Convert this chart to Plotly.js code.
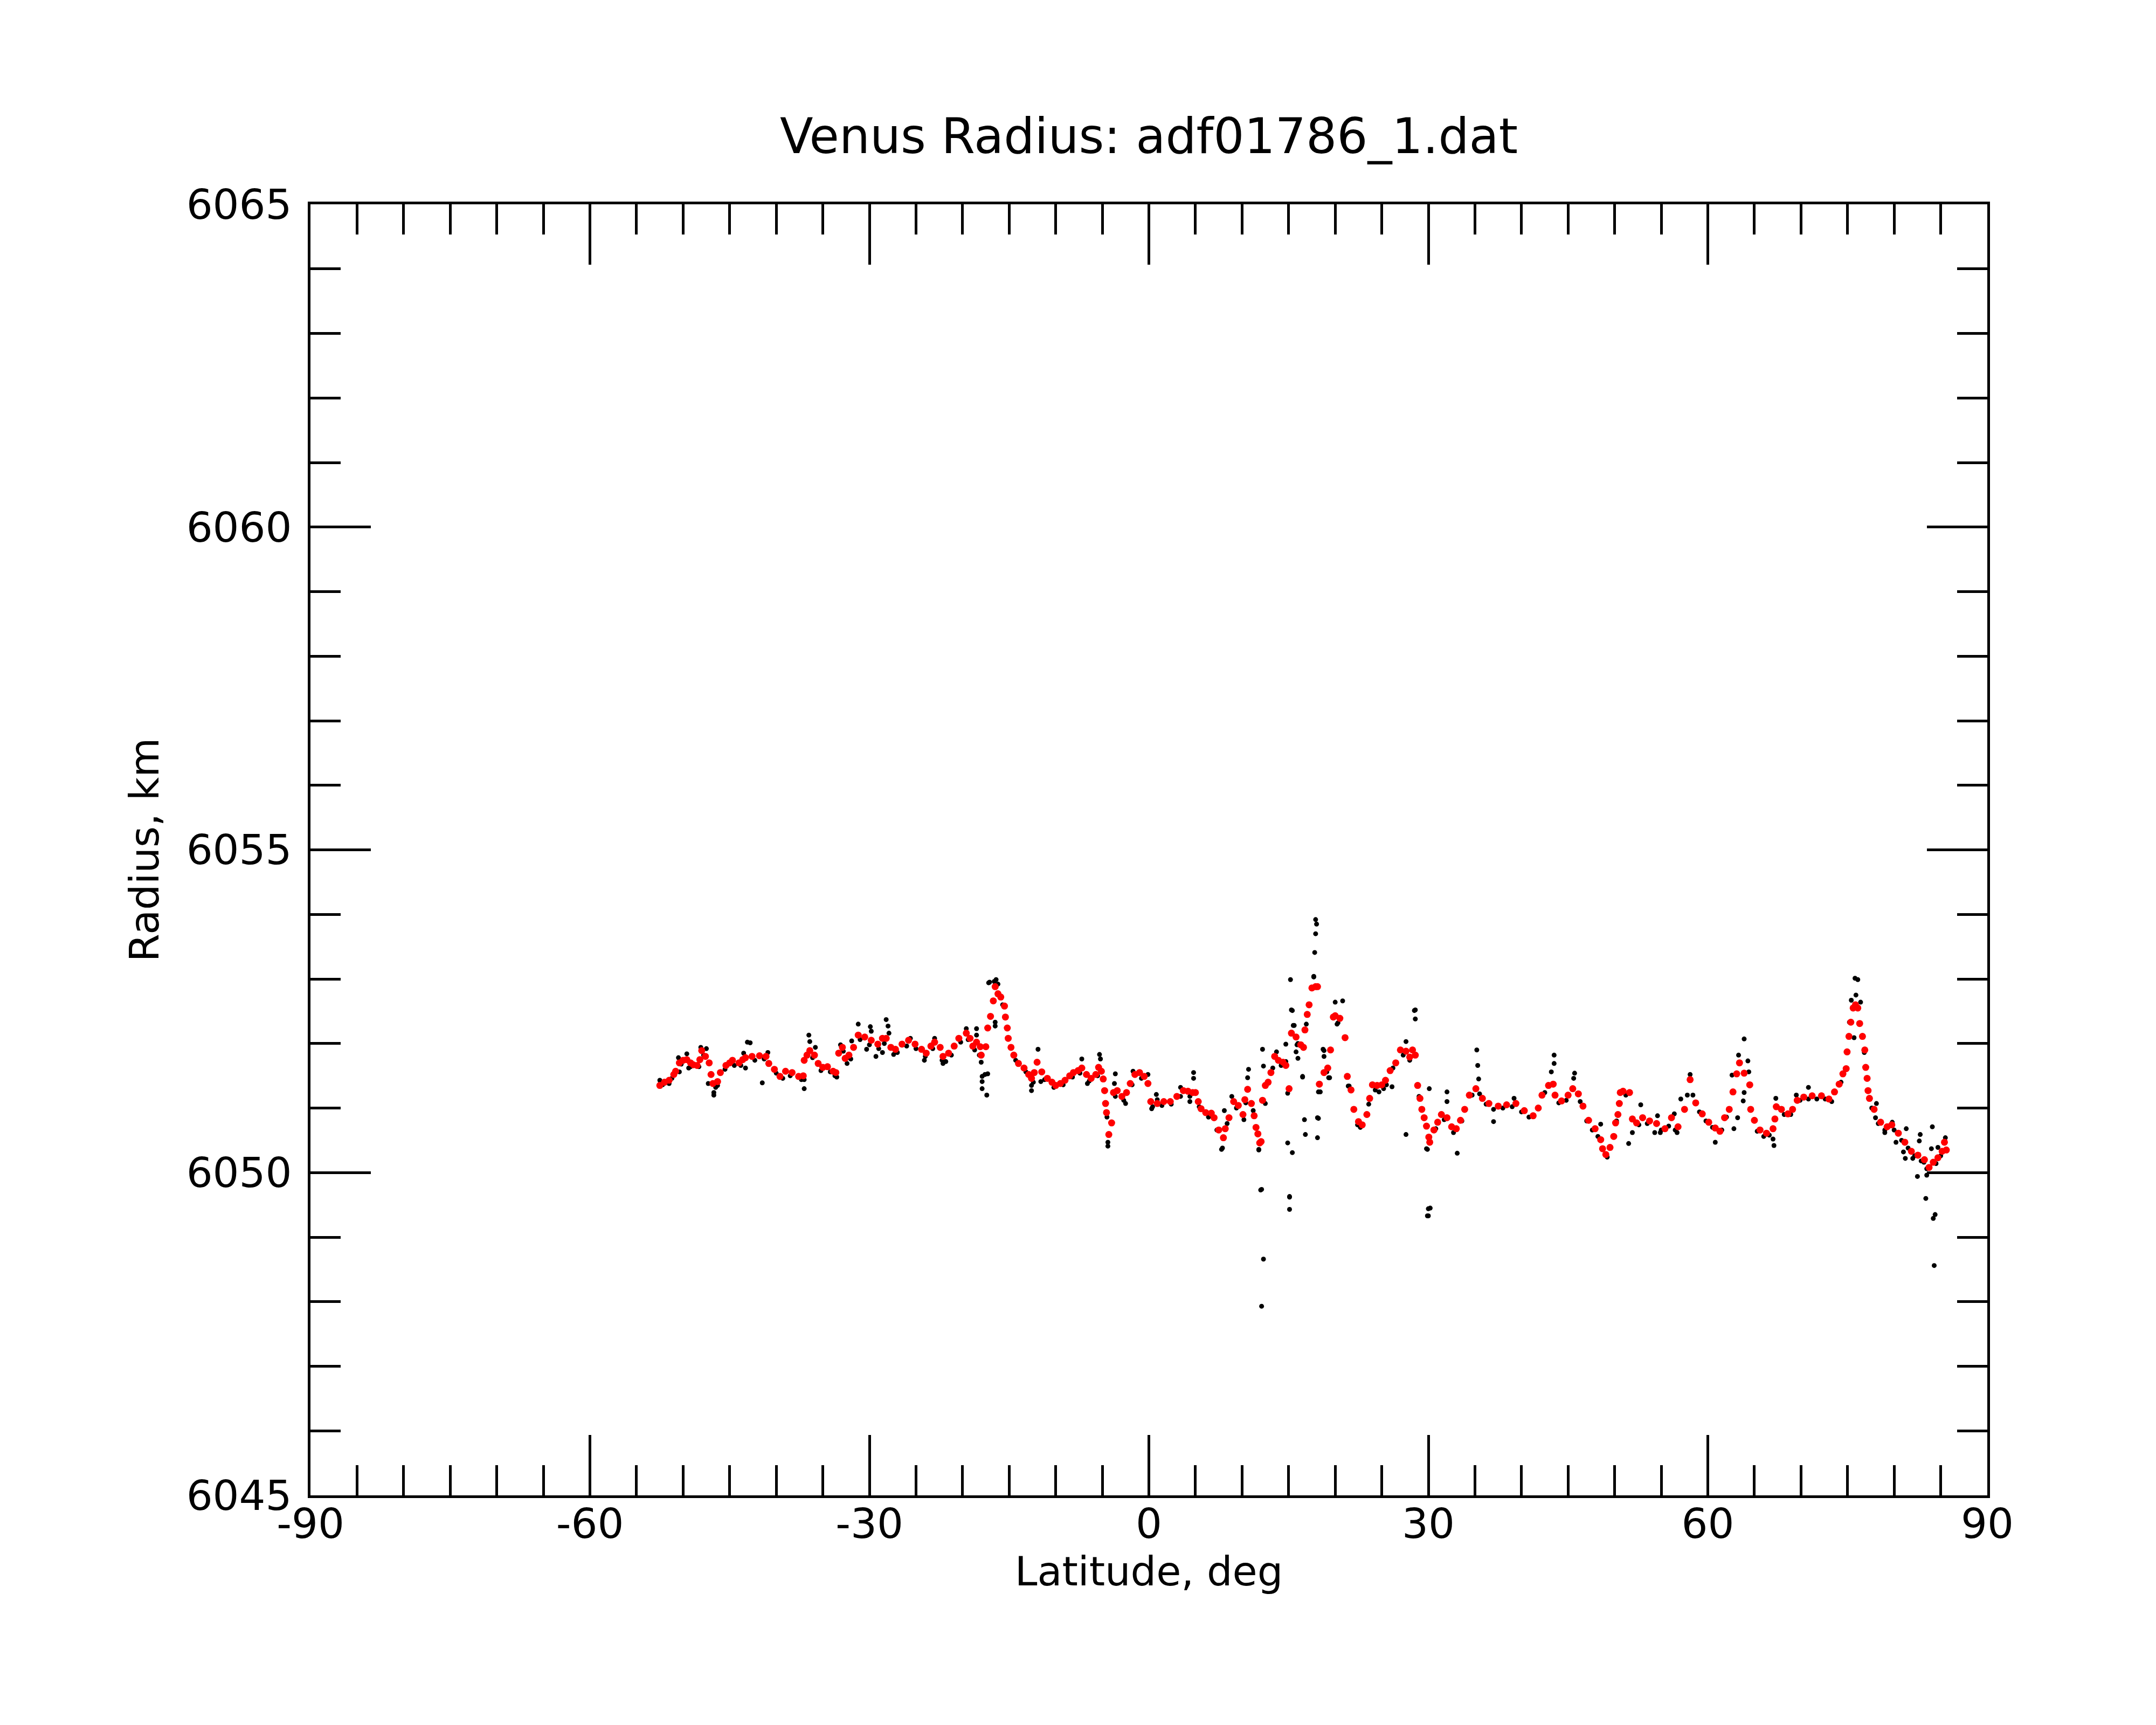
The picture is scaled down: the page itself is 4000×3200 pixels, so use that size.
<!DOCTYPE html>
<html>
<head>
<meta charset="utf-8">
<script src="https://cdn.plot.ly/plotly-3.0.1.min.js"></script>
<style>
  html, body { margin: 0; padding: 0; background: #fff; }
</style>
</head>
<body>
<div id="plotly_venus"></div>
<script>
// smoothed radius (red dots), latitude in deg, radius in km
const fitLat = [
  -52.5, -52.0, -51.5, -51.0, -50.8, -50.4, -50.0, -49.6, -49.2, -48.9, -48.5, -48.2, -48.0, -47.6, -47.2, -47.0, -46.8, -46.3, -46.0, -45.4,
  -45.0, -44.7, -44.0, -43.6, -43.3, -42.6, -41.8, -41.1, -40.8, -40.2, -39.6, -39.0, -38.3, -37.6, -37.1, -37.0, -36.7, -36.4, -35.9, -35.5,
  -35.0, -34.5, -33.9, -33.6, -33.3, -32.9, -32.6, -32.2, -31.7, -31.2, -30.5, -29.8, -29.1, -28.6, -28.2, -27.7, -27.2, -26.5, -25.8, -25.1,
  -24.4, -23.9, -23.4, -23.0, -22.4, -22.1, -21.5, -20.9, -20.4, -19.6, -19.2, -18.9, -18.5, -18.1, -18.0, -17.5, -17.3, -17.0, -16.7, -16.5,
  -16.2, -15.9, -15.5, -15.4, -15.2, -15.1, -14.8, -14.5, -14.0, -13.4, -12.9, -12.6, -12.3, -12.0, -11.5, -10.9, -10.4, -10.0, -9.5, -9.0,
  -8.5, -8.1, -7.6, -7.2, -6.7, -6.2, -5.7, -5.4, -5.1, -4.9, -4.75, -4.65, -4.55, -4.3, -4.0, -3.8, -3.4, -2.9, -2.4, -2.0,
  -1.5, -1.0, -0.5, -0.1, 0.2, 0.9, 1.6, 2.3, 3.0, 3.7, 4.2, 4.7, 5.0, 5.3, 5.6, 6.1, 6.7, 7.0, 7.5, 8.0,
  8.2, 8.6, 9.1, 9.6, 10.1, 10.3, 10.6, 11.0, 11.3, 11.5, 11.7, 11.9, 12.05, 12.2, 12.5, 12.8, 13.1, 13.5, 13.9, 14.4,
  14.7, 15.05, 15.3, 15.8, 16.3, 16.6, 16.75, 17.0, 17.2, 17.5, 17.9, 18.1, 18.3, 18.8, 19.2, 19.5, 19.8, 20.0, 20.5, 21.06,
  21.3, 21.7, 22.0, 22.5, 22.9, 23.4, 23.7, 24.0, 24.5, 25.0, 25.4, 25.9, 26.5, 27.0, 27.6, 28.0, 28.3, 28.6, 28.85, 29.1,
  29.3, 29.55, 29.8, 30.05, 30.15, 30.6, 31.0, 31.4, 32.0, 32.5, 33.0, 33.45, 33.9, 34.4, 35.1, 35.8, 36.5, 37.5, 38.4, 39.4,
  40.3, 41.25, 41.8, 42.2, 42.9, 43.4, 43.6, 44.3, 45.0, 45.5, 46.1, 46.6, 47.2, 47.9, 48.5, 48.7, 49.05, 49.5, 49.9, 50.1,
  50.35, 50.5, 50.6, 50.9, 51.6, 51.9, 52.35, 53.0, 53.75, 54.5, 55.4, 56.1, 56.8, 57.5, 58.1, 58.7, 59.4, 60.1, 60.8, 61.3,
  61.8, 62.3, 62.7, 63.1, 63.4, 63.9, 64.5, 64.6, 65.0, 65.6, 66.3, 67.0, 67.2, 67.35, 67.9, 68.6, 69.1, 69.6, 70.3, 71.2,
  72.2, 73.0, 73.6, 74.1, 74.5, 74.85, 74.95, 75.15, 75.35, 75.6, 75.85, 76.1, 76.3, 76.6, 76.85, 76.95, 77.1, 77.2, 77.35, 77.85,
  78.55, 79.25, 79.75, 80.45, 81.15, 81.85, 82.55, 83.25, 83.75, 84.2, 84.7, 85.15, 85.4, 85.6
];
const fitRad = [
  6051.35, 6051.40, 6051.43, 6051.52, 6051.57, 6051.70, 6051.74, 6051.75, 6051.70, 6051.67, 6051.66, 6051.75, 6051.89, 6051.80, 6051.70, 6051.52, 6051.38, 6051.41, 6051.55, 6051.66,
  6051.70, 6051.74, 6051.70, 6051.75, 6051.78, 6051.80, 6051.81, 6051.80, 6051.69, 6051.60, 6051.49, 6051.57, 6051.55, 6051.49, 6051.50, 6051.74, 6051.82, 6051.89, 6051.82, 6051.69,
  6051.63, 6051.64, 6051.57, 6051.55, 6051.85, 6051.94, 6051.77, 6051.82, 6051.94, 6052.13, 6052.10, 6052.05, 6051.99, 6052.08, 6052.08, 6051.94, 6051.91, 6051.99, 6052.05, 6051.99,
  6051.91, 6051.85, 6051.96, 6052.02, 6051.94, 6051.80, 6051.85, 6051.96, 6052.08, 6052.16, 6052.08, 6051.96, 6052.02, 6051.95, 6051.82, 6051.95, 6052.24, 6052.42, 6052.66, 6052.88,
  6052.77, 6052.72, 6052.58, 6052.41, 6052.24, 6052.08, 6051.94, 6051.82, 6051.69, 6051.62, 6051.52, 6051.46, 6051.55, 6051.71, 6051.56, 6051.46, 6051.40, 6051.35, 6051.38, 6051.43,
  6051.50, 6051.55, 6051.58, 6051.62, 6051.52, 6051.46, 6051.52, 6051.63, 6051.57, 6051.45, 6051.27, 6051.07, 6050.93, 6050.59, 6050.77, 6051.24, 6051.27, 6051.18, 6051.24, 6051.38,
  6051.52, 6051.55, 6051.49, 6051.38, 6051.10, 6051.07, 6051.10, 6051.10, 6051.18, 6051.27, 6051.26, 6051.24, 6051.24, 6051.10, 6050.99, 6050.93, 6050.92, 6050.85, 6050.66, 6050.54,
  6050.68, 6050.85, 6051.10, 6051.04, 6050.90, 6051.13, 6051.29, 6051.07, 6050.88, 6050.70, 6050.60, 6050.46, 6050.48, 6051.12, 6051.35, 6051.40, 6051.55, 6051.80, 6051.74, 6051.71,
  6051.66, 6051.30, 6052.16, 6052.10, 6051.98, 6051.94, 6052.21, 6052.45, 6052.60, 6052.86, 6052.88, 6052.88, 6051.37, 6051.55, 6051.62, 6051.90, 6052.41, 6052.43, 6052.39, 6052.09,
  6051.49, 6051.28, 6050.98, 6050.79, 6050.74, 6050.90, 6051.15, 6051.36, 6051.35, 6051.36, 6051.43, 6051.58, 6051.70, 6051.90, 6051.88, 6051.79, 6051.90, 6051.82, 6051.35, 6051.15,
  6050.98, 6050.85, 6050.72, 6050.55, 6050.47, 6050.66, 6050.78, 6050.90, 6050.85, 6050.71, 6050.68, 6050.81, 6050.98, 6051.20, 6051.30, 6051.15, 6051.07, 6051.03, 6051.05, 6051.07,
  6050.96, 6050.88, 6051.00, 6051.20, 6051.35, 6051.37, 6051.20, 6051.11, 6051.20, 6051.30, 6051.22, 6051.03, 6050.81, 6050.68, 6050.51, 6050.37, 6050.28, 6050.39, 6050.56, 6050.77,
  6050.90, 6051.07, 6051.24, 6051.26, 6051.24, 6050.83, 6050.77, 6050.85, 6050.80, 6050.76, 6050.68, 6050.85, 6050.71, 6050.98, 6051.44, 6051.08, 6050.91, 6050.78, 6050.69, 6050.64,
  6050.85, 6050.98, 6051.25, 6051.53, 6051.70, 6051.54, 6051.36, 6050.98, 6050.81, 6050.66, 6050.61, 6050.68, 6050.83, 6051.02, 6050.98, 6050.91, 6050.98, 6051.12, 6051.17, 6051.19,
  6051.19, 6051.14, 6051.25, 6051.37, 6051.53, 6051.61, 6051.87, 6052.11, 6052.33, 6052.55, 6052.60, 6052.55, 6052.31, 6052.11, 6051.90, 6051.63, 6051.46, 6051.27, 6051.15, 6050.98,
  6050.78, 6050.71, 6050.74, 6050.61, 6050.47, 6050.33, 6050.27, 6050.20, 6050.08, 6050.16, 6050.23, 6050.33, 6050.47, 6050.35
];

// raw radius samples (black dots)
const rawLat = [
  -52.5, -52.2, -51.5, -51.2, -50.5, -50.4, -50.2, -49.6, -49.4, -49.2, -48.3, -48.1, -47.8, -47.5, -47.3, -46.7, -46.7, -46.5, -46.3, -45.5,
  -44.5, -43.8, -43.5, -43.3, -43.1, -42.8, -42.3, -41.5, -41.3, -40.9, -40.0, -39.3, -38.5, -37.3, -37.0, -37.0, -36.5, -36.4, -36.1, -35.8,
  -35.2, -34.2, -33.7, -33.5, -33.1, -32.8, -32.4, -32.0, -31.9, -31.2, -31.0, -30.3, -30.0, -29.9, -29.8, -29.3, -29.0, -28.6, -28.4, -28.2,
  -28.0, -27.9, -27.4, -27.0, -26.0, -25.6, -25.0, -24.1, -24.0, -23.2, -23.0, -22.2, -22.1, -21.8, -21.2, -20.2, -19.6, -19.4, -18.7, -18.5,
  -18.5, -18.2, -18.0, -17.9, -17.9, -17.9, -17.6, -17.4, -17.3, -17.2, -17.1, -16.6, -16.5, -16.5, -16.4, -16.2, -15.7, -14.3, -13.2, -12.6,
  -12.6, -12.4, -11.9, -11.6, -11.2, -10.2, -9.2, -8.2, -7.4, -7.2, -6.6, -6.4, -5.5, -5.3, -5.2, -4.5, -4.4, -4.4, -3.7, -3.6,
  -3.6, -2.7, -2.5, -1.8, -1.7, -0.8, -0.1, 0.3, 0.4, 0.8, 0.9, 1.4, 2.4, 3.4, 3.4, 4.4, 4.4, 4.8, 4.8, 5.4,
  6.4, 7.3, 7.8, 7.9, 8.1, 8.4, 8.9, 9.4, 10.2, 10.4, 10.6, 10.7, 11.2, 11.8, 11.8, 12.0, 12.1, 12.1, 12.2, 12.3,
  12.3, 12.5, 13.3, 13.7, 14.2, 14.7, 14.7, 14.9, 14.9, 15.1, 15.1, 15.1, 15.2, 15.3, 15.4, 15.4, 15.5, 15.6, 15.8, 15.9,
  16.0, 16.0, 16.5, 16.5, 16.7, 16.8, 16.9, 17.7, 17.7, 17.8, 17.9, 17.9, 18.0, 18.1, 18.1, 18.2, 18.2, 18.4, 18.7, 18.8,
  18.8, 19.1, 19.3, 19.4, 20.0, 20.2, 20.3, 20.8, 21.4, 21.5, 22.4, 22.7, 23.6, 24.3, 24.7, 25.2, 25.5, 26.1, 26.2, 27.3,
  27.6, 27.6, 28.0, 28.5, 28.6, 28.6, 29.0, 29.8, 29.9, 29.9, 30.0, 30.0, 30.1, 30.2, 30.8, 31.7, 32.0, 32.0, 32.7, 33.1,
  33.6, 34.7, 35.2, 35.3, 35.4, 35.5, 36.2, 37.0, 37.0, 38.0, 39.0, 39.2, 40.0, 40.8, 42.5, 43.2, 43.5, 43.5, 44.0, 44.8,
  45.6, 45.7, 46.3, 47.0, 47.6, 48.2, 48.5, 49.2, 50.2, 51.2, 51.5, 51.9, 52.6, 52.8, 53.5, 54.3, 54.6, 54.9, 55.0, 55.8,
  56.4, 56.5, 56.7, 57.1, 57.8, 58.1, 58.4, 59.1, 59.8, 60.5, 60.8, 61.5, 62.0, 62.6, 62.8, 63.2, 63.3, 63.8, 63.9, 63.9,
  64.3, 64.4, 65.3, 66.0, 66.6, 67.0, 67.1, 67.3, 68.2, 68.9, 69.5, 69.9, 70.8, 70.8, 71.7, 72.6, 73.3, 74.3, 75.2, 75.4,
  75.7, 75.8, 75.9, 76.1, 76.4, 76.8, 77.6, 78.0, 78.1, 78.3, 79.0, 79.0, 79.8, 80.0, 80.2, 80.8, 81.0, 81.2, 81.3, 81.5,
  82.0, 82.2, 82.5, 82.7, 82.8, 82.9, 83.2, 83.4, 83.5, 83.5, 84.0, 84.1, 84.2, 84.3, 84.4, 84.5, 84.7, 85.0, 85.5
];
const rawRad = [
  6051.43, 6051.36, 6051.38, 6051.46, 6051.78, 6051.56, 6051.68, 6051.84, 6051.62, 6051.64, 6051.64, 6051.94, 6051.82, 6051.92, 6051.38, 6051.24, 6051.20, 6051.32, 6051.35, 6051.60,
  6051.66, 6051.66, 6051.85, 6051.62, 6052.02, 6052.01, 6051.74, 6051.39, 6051.76, 6051.86, 6051.54, 6051.46, 6051.50, 6051.44, 6051.30, 6051.44, 6052.13, 6052.03, 6051.78, 6051.94,
  6051.58, 6051.56, 6051.50, 6051.48, 6051.98, 6051.88, 6051.69, 6051.76, 6052.04, 6052.30, 6052.06, 6051.91, 6051.98, 6052.26, 6052.19, 6051.80, 6051.92, 6051.86, 6052.00, 6052.37,
  6052.27, 6052.16, 6051.83, 6051.86, 6051.96, 6052.08, 6051.92, 6051.74, 6051.80, 6051.92, 6052.08, 6051.74, 6051.69, 6051.72, 6051.82, 6052.02, 6052.23, 6052.06, 6051.90, 6052.23,
  6052.13, 6051.82, 6051.71, 6051.49, 6051.41, 6051.30, 6051.52, 6051.20, 6051.53, 6052.94, 6052.95, 6052.96, 6052.33, 6052.27, 6052.99, 6052.92, 6052.60, 6051.74, 6051.56, 6051.35,
  6051.27, 6051.40, 6051.91, 6051.41, 6051.44, 6051.32, 6051.36, 6051.48, 6051.54, 6051.76, 6051.38, 6051.42, 6051.50, 6051.83, 6051.76, 6050.86, 6050.41, 6050.47, 6051.38, 6051.18,
  6051.53, 6051.12, 6051.07, 6051.36, 6051.57, 6051.46, 6051.52, 6050.99, 6051.02, 6051.21, 6051.13, 6051.04, 6051.06, 6051.18, 6051.32, 6051.18, 6051.10, 6051.55, 6051.46, 6051.02,
  6050.86, 6050.66, 6050.36, 6050.38, 6050.96, 6050.76, 6051.18, 6051.00, 6050.82, 6051.08, 6051.47, 6051.60, 6050.96, 6050.35, 6050.36, 6049.73, 6047.93, 6049.74, 6051.91, 6048.66,
  6051.65, 6051.07, 6051.62, 6051.87, 6051.66, 6051.99, 6051.72, 6050.46, 6051.23, 6049.62, 6049.43, 6049.63, 6052.99, 6052.52, 6050.31, 6052.51, 6052.28, 6052.28, 6051.87, 6051.98,
  6052.00, 6051.77, 6051.49, 6051.48, 6050.82, 6050.59, 6052.30, 6053.04, 6053.03, 6053.41, 6053.70, 6053.92, 6053.85, 6050.85, 6050.54, 6051.25, 6050.84, 6051.25, 6051.91, 6051.89,
  6051.80, 6051.56, 6051.47, 6051.47, 6052.64, 6052.30, 6052.32, 6052.66, 6051.34, 6051.34, 6050.74, 6050.70, 6051.06, 6051.28, 6051.25, 6051.30, 6051.36, 6051.33, 6051.62, 6051.82,
  6050.59, 6052.03, 6051.74, 6052.51, 6052.52, 6052.38, 6051.18, 6050.37, 6050.36, 6049.33, 6049.44, 6049.33, 6051.30, 6049.45, 6050.68, 6050.82, 6051.25, 6051.10, 6050.62, 6050.30,
  6050.80, 6051.20, 6051.90, 6051.66, 6051.45, 6051.22, 6051.06, 6050.98, 6050.79, 6051.00, 6051.02, 6051.15, 6050.94, 6050.86, 6051.24, 6051.56, 6051.82, 6051.69, 6051.08, 6051.12,
  6051.46, 6051.54, 6051.10, 6050.80, 6050.66, 6050.56, 6050.75, 6050.24, 6050.80, 6051.20, 6050.45, 6050.62, 6050.74, 6051.05, 6050.76, 6050.62, 6050.88, 6050.62, 6050.66, 6050.72,
  6050.91, 6050.66, 6050.62, 6051.14, 6051.20, 6051.52, 6051.20, 6050.94, 6050.80, 6050.70, 6050.47, 6050.66, 6050.86, 6051.51, 6050.68, 6050.85, 6051.82, 6051.11, 6051.24, 6052.07,
  6051.73, 6051.56, 6050.64, 6050.56, 6050.58, 6050.52, 6050.42, 6051.15, 6050.90, 6050.90, 6051.20, 6051.12, 6051.14, 6051.32, 6051.14, 6051.14, 6051.10, 6051.40, 6052.33, 6052.67,
  6052.09, 6053.01, 6052.75, 6052.99, 6052.64, 6051.86, 6051.00, 6050.85, 6051.07, 6050.76, 6050.66, 6050.62, 6050.78, 6050.66, 6050.47, 6050.50, 6050.32, 6050.22, 6050.68, 6050.38,
  6050.22, 6050.26, 6049.94, 6050.49, 6050.59, 6050.18, 6050.16, 6049.60, 6049.96, 6050.06, 6050.37, 6050.71, 6049.29, 6048.56, 6049.35, 6050.14, 6050.39, 6050.26, 6050.54
];

// axis tick values and labels (plain hyphen minus, as in the original)
const xTickVals = [-90, -60, -30, 0, 30, 60, 90];
const xTickText = ['-90', '-60', '-30', '0', '30', '60', '90'];
const yTickVals = [6045, 6050, 6055, 6060, 6065];
const yTickText = ['6045', '6050', '6055', '6060', '6065'];

const titleText = 'Venus Radius: adf01786_1.dat';
const xTitle = 'Latitude, deg';
const yTitle = 'Radius, km';

function drawVenus() {
  let font = { family: 'DejaVu Sans', size: 77, color: 'black' };

  let rawTrace = {
    x: rawLat,
    y: rawRad,
    type: 'scatter',
    mode: 'markers',
    marker: { color: 'black', size: 9 },
    hoverinfo: 'skip',
  };
  let fitTrace = {
    x: fitLat,
    y: fitRad,
    type: 'scatter',
    mode: 'markers',
    marker: { color: '#ff0000', size: 13 },
    hoverinfo: 'skip',
  };

  let layout = {
    width: 4000,
    height: 3200,
    margin: { l: 576, r: 313, t: 379, b: 426 },
    paper_bgcolor: 'white',
    plot_bgcolor: 'white',
    showlegend: false,
    font: font,
    title: {
      text: titleText,
      font: { family: 'DejaVu Sans', size: 90, color: 'black' },
      xref: 'paper',
      x: 0.5,
      xanchor: 'center',
      yref: 'container',
      y: 1 - 252 / 3200,
      yanchor: 'middle',
    },
    xaxis: {
      range: [-90, 90],
      tickmode: 'array',
      tickvals: xTickVals,
      ticktext: xTickText,
      ticks: 'inside',
      ticklen: 112,
      tickwidth: 5,
      tickcolor: 'black',
      showline: true,
      linewidth: 5,
      linecolor: 'black',
      mirror: 'ticks',
      showgrid: false,
      zeroline: false,
      tickfont: font,
      ticklabelstandoff: -18,
      minor: { tickmode: 'linear', tick0: -90, dtick: 5, ticks: 'inside', ticklen: 56, tickwidth: 5, tickcolor: 'black', showgrid: false },
      title: { text: xTitle, font: { family: 'DejaVu Sans', size: 75, color: 'black' }, standoff: 0 },
    },
    yaxis: {
      range: [6045, 6065],
      tickmode: 'array',
      tickvals: yTickVals,
      ticktext: yTickText,
      ticks: 'inside',
      ticklen: 112,
      tickwidth: 5,
      tickcolor: 'black',
      showline: true,
      linewidth: 5,
      linecolor: 'black',
      mirror: 'ticks',
      showgrid: false,
      zeroline: false,
      tickfont: font,
      ticklabelstandoff: 14,
      minor: { tickmode: 'linear', tick0: 6045, dtick: 1, ticks: 'inside', ticklen: 56, tickwidth: 5, tickcolor: 'black', showgrid: false },
      title: { text: yTitle, font: { family: 'DejaVu Sans', size: 75, color: 'black' }, standoff: 28 },
    },
  };
  let config = { displayModeBar: false, staticPlot: true };

  Plotly.newPlot(document.getElementById('plotly_venus'), [rawTrace, fitTrace], layout, config);
}
drawVenus();
</script>
</body>
</html>
